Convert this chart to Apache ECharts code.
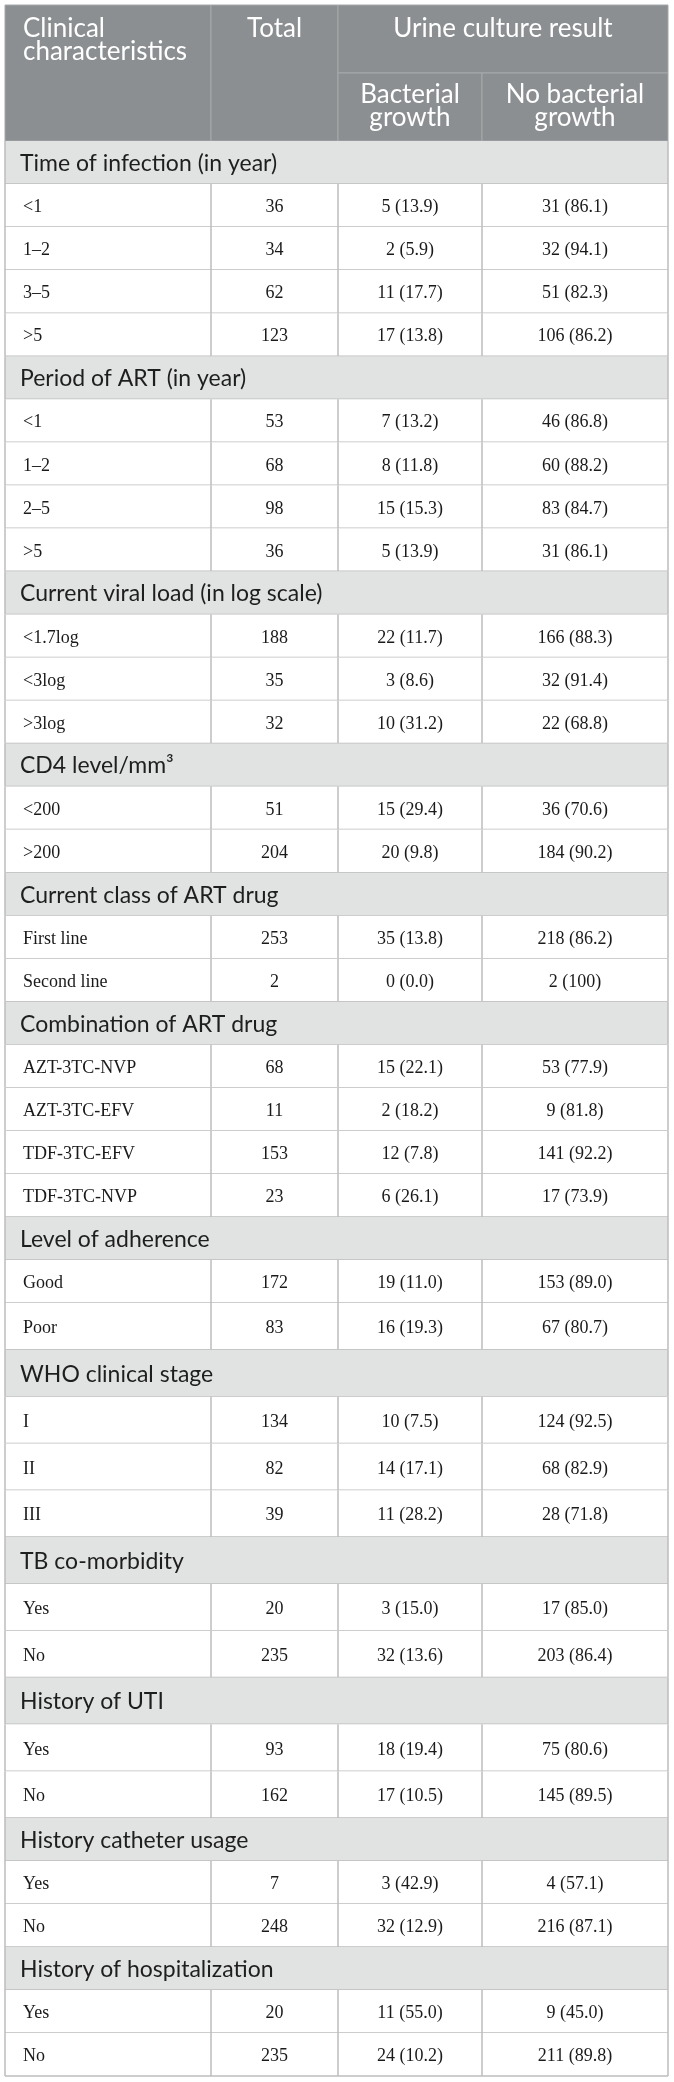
<!DOCTYPE html>
<html>
<head>
<meta charset="utf-8">
<script src="https://cdn.jsdelivr.net/npm/echarts@6.0.0/dist/echarts.min.js"></script>
<style>
    html, body { margin: 0; padding: 0; background: #ffffff; }
    #table-chart { width: 674px; height: 2082px; }
</style>
</head>
<body>
<div id="table-chart"></div>
<script>
// ---- table content ----
var headLabels = ['Clinical\ncharacteristics', 'Total', 'Urine culture result', 'Bacterial\ngrowth', 'No bacterial\ngrowth'];

var sections = [
    'Time of infection (in year)',
    'Period of ART (in year)',
    'Current viral load (in log scale)',
    'CD4 level/mm\u00b3',
    'Current class of ART drug',
    'Combination of ART drug',
    'Level of adherence',
    'WHO clinical stage',
    'TB co-morbidity',
    'History of UTI',
    'History catheter usage',
    'History of hospitalization'
];

var rowLabels = [
    ['<1', '1\u20132', '3\u20135', '>5'],
    ['<1', '1\u20132', '2\u20135', '>5'],
    ['<1.7log', '<3log', '>3log'],
    ['<200', '>200'],
    ['First line', 'Second line'],
    ['AZT-3TC-NVP', 'AZT-3TC-EFV', 'TDF-3TC-EFV', 'TDF-3TC-NVP'],
    ['Good', 'Poor'],
    ['I', 'II', 'III'],
    ['Yes', 'No'],
    ['Yes', 'No'],
    ['Yes', 'No'],
    ['Yes', 'No']
];

var totals = [
    [36, 34, 62, 123],
    [53, 68, 98, 36],
    [188, 35, 32],
    [51, 204],
    [253, 2],
    [68, 11, 153, 23],
    [172, 83],
    [134, 82, 39],
    [20, 235],
    [93, 162],
    [7, 248],
    [20, 235]
];

var growthN = [
    [5, 2, 11, 17],
    [7, 8, 15, 5],
    [22, 3, 10],
    [15, 20],
    [35, 0],
    [15, 2, 12, 6],
    [19, 16],
    [10, 14, 11],
    [3, 32],
    [18, 17],
    [3, 32],
    [11, 24]
];

var growthPct = [
    ['13.9', '5.9', '17.7', '13.8'],
    ['13.2', '11.8', '15.3', '13.9'],
    ['11.7', '8.6', '31.2'],
    ['29.4', '9.8'],
    ['13.8', '0.0'],
    ['22.1', '18.2', '7.8', '26.1'],
    ['11.0', '19.3'],
    ['7.5', '17.1', '28.2'],
    ['15.0', '13.6'],
    ['19.4', '10.5'],
    ['42.9', '12.9'],
    ['55.0', '10.2']
];

var noGrowthN = [
    [31, 32, 51, 106],
    [46, 60, 83, 31],
    [166, 32, 22],
    [36, 184],
    [218, 2],
    [53, 9, 141, 17],
    [153, 67],
    [124, 68, 28],
    [17, 203],
    [75, 145],
    [4, 216],
    [9, 211]
];

var noGrowthPct = [
    ['86.1', '94.1', '82.3', '86.2'],
    ['86.8', '88.2', '84.7', '86.1'],
    ['88.3', '91.4', '68.8'],
    ['70.6', '90.2'],
    ['86.2', '100'],
    ['77.9', '81.8', '92.2', '73.9'],
    ['89.0', '80.7'],
    ['92.5', '82.9', '71.8'],
    ['85.0', '86.4'],
    ['80.6', '89.5'],
    ['57.1', '87.1'],
    ['45.0', '89.8']
];

// ---- layout / style ----
var colEdges = [0, 206, 333, 477, 663];          // column borders, px from table left
var headSpans = [[0, 0, 0, 1], [1, 0, 1, 1], [2, 0, 3, 0], [2, 1, 2, 1], [3, 1, 3, 1]]; // c0, r0, c1, r1
var bandTops = [141, 1303, 1818, 2076];          // row bands (rows in a band are equal height)
var bandSizes = [27, 11, 6];

var SANS = 'Lato, "Open Sans", sans-serif';
var SERIF = '"Liberation Serif", "DejaVu Serif", serif';
var HEAD_BG = '#8b8f91';
var HEAD_LINE = '#a6a9ab';
var SECTION_BG = '#e1e3e2';
var GRID_LINE = '#bdbdbd';

// pick a font size so a sample string gets the width seen in the original
function fitSize(samples, family) {
    var ctx = document.createElement('canvas').getContext('2d');
    ctx.font = '100px ' + family;
    var sum = 0;
    samples.forEach(function (s) { sum += 100 * s[1] / ctx.measureText(s[0]).width; });
    return Math.round(sum / samples.length * 2) / 2;
}
var HEAD_SIZE = fitSize([['characteristics', 164], ['Urine culture result', 220]], SANS);
var SECTION_SIZE = fitSize([['Current viral load (in log scale)', 308], ['Time of infection (in year)', 257]], SANS);

// flatten rows
var rows = [];
sections.forEach(function (s, i) {
    rows.push({ section: s });
    rowLabels[i].forEach(function (lab, j) {
        rows.push({
            cells: [
                lab,
                String(totals[i][j]),
                growthN[i][j] + ' (' + growthPct[i][j] + ')',
                noGrowthN[i][j] + ' (' + noGrowthPct[i][j] + ')'
            ]
        });
    });
});

function line(x1, y1, x2, y2, color, w) {
    return { type: 'line', shape: { x1: x1, y1: y1, x2: x2, y2: y2 }, style: { stroke: color, lineWidth: w } };
}

function renderHead(params, api) {
    var sp = headSpans[params.dataIndex];
    var h = api.size([0, 1])[1];
    var x0 = api.coord([colEdges[sp[0]], sp[1]])[0];
    var x1 = api.coord([colEdges[sp[2] + 1], sp[1]])[0];
    var y0 = api.coord([0, sp[1]])[1] - h / 2;
    var y1 = api.coord([0, sp[3]])[1] + h / 2;
    var txt = headLabels[params.dataIndex];
    var isSub = sp[1] === 1;
    var isFirst = sp[0] === 0;
    return {
        type: 'group',
        children: [
            { type: 'rect', shape: { x: x0, y: y0, width: x1 - x0, height: y1 - y0 },
              style: { fill: HEAD_BG, stroke: HEAD_LINE, lineWidth: 1 } },
            { type: 'text', style: {
                text: txt,
                x: isFirst ? x0 + 18 : (x0 + x1) / 2,
                y: isSub ? (y0 + y1) / 2 - 1 : y0 + 12,
                align: isFirst ? 'left' : 'center',
                verticalAlign: isSub ? 'middle' : 'top',
                textAlign: isFirst ? 'left' : 'center',
                textVerticalAlign: isSub ? 'middle' : 'top',
                fill: '#ffffff',
                fontFamily: SANS,
                fontSize: HEAD_SIZE,
                lineHeight: 23
            } }
        ]
    };
}

function makeBodyRender(bandRows) {
    return function (params, api) {
        var row = bandRows[params.dataIndex];
        var idx = api.value(1);
        var c = api.coord([0, idx]);
        var h = api.size([0, 1])[1];
        var top = c[1] - h / 2;
        var bottom = c[1] + h / 2;
        var xs = colEdges.map(function (e) { return api.coord([e, idx])[0]; });
        var kids = [];
        kids.push({ type: 'rect', shape: { x: xs[0], y: top, width: xs[4] - xs[0], height: h },
                    style: { fill: row.section ? SECTION_BG : '#ffffff' } });
        if (row.section) {
            kids.push({ type: 'text', style: {
                text: row.section, x: xs[0] + 15, y: c[1] + 1,
                align: 'left', verticalAlign: 'middle', textAlign: 'left', textVerticalAlign: 'middle',
                fill: '#1e1e1e', fontFamily: SANS, fontSize: SECTION_SIZE
            } });
        } else {
            row.cells.forEach(function (t, k) {
                var first = k === 0;
                kids.push({ type: 'text', style: {
                    text: t,
                    x: first ? xs[0] + 18 : (xs[k] + xs[k + 1]) / 2,
                    y: c[1] + 2,
                    align: first ? 'left' : 'center', verticalAlign: 'middle',
                    textAlign: first ? 'left' : 'center', textVerticalAlign: 'middle',
                    fill: '#1a1a1a', fontFamily: SERIF, fontSize: 18
                } });
            });
            for (var k = 1; k < 4; k++) {
                kids.push(line(xs[k], top, xs[k], bottom, GRID_LINE, 1.5));
            }
        }
        kids.push(line(xs[0], bottom, xs[4], bottom, GRID_LINE, 1.5));
        kids.push(line(xs[0], top, xs[0], bottom, GRID_LINE, 1.5));
        kids.push(line(xs[4], top, xs[4], bottom, GRID_LINE, 1.5));
        return { type: 'group', children: kids };
    };
}

function LoadTable() {
    var TableChart = echarts.init(document.getElementById('table-chart'));
    var grids = [], xAxes = [], yAxes = [], series = [];

    // header grid
    grids.push({ left: 5, top: 5, width: 663, height: 136 });
    xAxes.push({ type: 'value', min: 0, max: 663, show: false, gridIndex: 0 });
    yAxes.push({ type: 'category', data: [0, 1], inverse: true, show: false, gridIndex: 0 });
    series.push({
        type: 'custom',
        xAxisIndex: 0, yAxisIndex: 0,
        renderItem: renderHead,
        data: headSpans.map(function (sp) { return [colEdges[sp[0]], sp[1]]; })
    });

    // body bands
    var start = 0;
    bandSizes.forEach(function (n, b) {
        var gi = b + 1;
        var bandRows = rows.slice(start, start + n);
        start += n;
        grids.push({ left: 5, top: bandTops[b], width: 663, height: bandTops[b + 1] - bandTops[b] });
        xAxes.push({ type: 'value', min: 0, max: 663, show: false, gridIndex: gi });
        yAxes.push({ type: 'category', data: bandRows.map(function (r, i) { return i; }),
                     inverse: true, show: false, gridIndex: gi });
        series.push({
            type: 'custom',
            xAxisIndex: gi, yAxisIndex: gi,
            renderItem: makeBodyRender(bandRows),
            data: bandRows.map(function (r, i) { return [0, i]; }),
            z: 2
        });
    });

    var option = {
        animation: false,
        grid: grids,
        xAxis: xAxes,
        yAxis: yAxes,
        series: series
    };
    TableChart.setOption(option);
}

LoadTable();
</script>
</body>
</html>
